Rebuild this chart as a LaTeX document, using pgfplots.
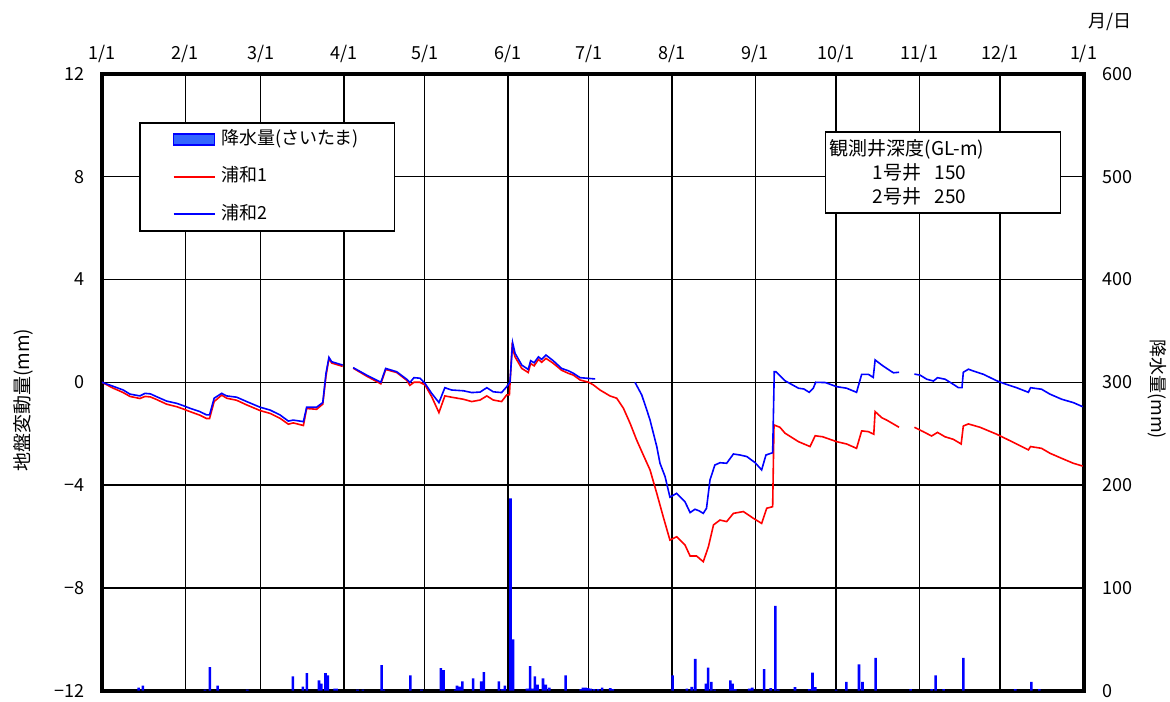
\documentclass[border=0pt]{standalone}
\usepackage{pgfplots}
\usepackage{pgfplotstable}
\pgfplotsset{compat=1.18}
\usepackage{fontspec}
\setmainfont{Noto Sans CJK JP}

\definecolor{barblue}{RGB}{0,0,255}
\definecolor{legblue}{RGB}{51,102,255}

% 浦和2 (blue)
\pgfplotstableread{
d v
0 0
4 -0.15
7.9 -0.30
10.4 -0.46
14.1 -0.53
16 -0.43
18 -0.45
20.3 -0.56
24 -0.73
27.8 -0.82
30 -0.90
32.7 -1.01
36.4 -1.14
38.9 -1.27
40 -1.27
41.7 -0.62
44.5 -0.43
46.4 -0.53
50.1 -0.58
53.8 -0.75
58.8 -0.97
62.5 -1.08
66.2 -1.27
69.3 -1.51
71.1 -1.47
74.9 -1.53
76.1 -0.97
79.8 -0.97
82.1 -0.79
83.3 0.35
84.4 0.97
85.4 0.80
89.5 0.67
91 nan
93.4 0.57
98.4 0.28
103.7 0.0
105.5 0.54
109.6 0.41
113.3 0.12
114.5 -0.01
116 0.18
118.2 0.16
120.1 -0.04
122.6 -0.43
125.3 -0.79
127.5 -0.21
130 -0.30
134.4 -0.33
137.5 -0.40
140.6 -0.38
143.1 -0.21
145.5 -0.37
148.6 -0.40
150.5 -0.17
151.7 0.0
152.7 1.54
153.6 1.13
156.1 0.67
158.5 0.50
159.4 0.84
160.7 0.76
162.3 0.99
163.5 0.89
165.1 1.06
167.8 0.84
170.9 0.54
173.4 0.45
175.3 0.35
177.8 0.18
183.4 0.13
190 nan
198.2 0
200.7 -0.49
202.6 -1.08
203.8 -1.47
206.3 -2.50
207.5 -3.15
209.4 -3.67
211.2 -4.47
213.7 -4.32
216.8 -4.65
218.7 -5.07
220.5 -4.94
222 -5.00
223.6 -5.10
224.8 -4.90
226.1 -3.80
227.9 -3.22
229.8 -3.13
232.3 -3.15
234.8 -2.79
237.3 -2.83
239.8 -2.89
242.9 -3.13
245.3 -3.41
246.9 -2.83
249.4 -2.74
250 0.41
250.6 0.41
254 0.06
259 -0.23
261 -0.26
263 -0.39
264.5 -0.23
265.4 0
269 -0.01
273.2 -0.17
276.9 -0.23
280.6 -0.39
282.5 0.31
285 0.31
286.8 0.19
287.5 0.87
290 0.67
291.8 0.54
294.3 0.37
296.4 0.39
299 nan
302.1 0.32
304.2 0.28
306.7 0.12
309.2 0.05
310.7 0.18
313.5 0.12
316 -0.04
318.5 -0.21
319.8 -0.21
320.3 0.39
322.2 0.51
324 0.44
327.8 0.31
332.7 0.06
335.2 -0.04
340.1 -0.21
344.5 -0.39
345.3 -0.21
349.4 -0.27
352.5 -0.46
356.9 -0.66
361.2 -0.79
364.7 -0.95
}\blueT

% 浦和1 (red)
\pgfplotstableread{
d v
0 0
4 -0.22
7.9 -0.40
10.4 -0.55
14.1 -0.63
16 -0.55
18 -0.57
20.3 -0.67
24 -0.85
27.8 -0.95
30 -1.03
32.7 -1.14
36.4 -1.28
38.9 -1.41
40 -1.41
41.7 -0.75
44.5 -0.50
46.4 -0.62
50.1 -0.70
53.8 -0.88
58.8 -1.10
62.5 -1.21
66.2 -1.40
69.3 -1.63
71.1 -1.58
74.9 -1.68
76.1 -1.02
79.8 -1.05
82.1 -0.85
83.3 0.25
84.4 0.93
85.4 0.75
89.5 0.62
91 nan
93.4 0.55
98.4 0.24
103.7 -0.06
105.5 0.50
109.6 0.38
113.3 0.08
114.5 -0.12
116 0.00
118.2 0.00
120.1 -0.10
122.6 -0.56
125.3 -1.18
127.5 -0.53
130 -0.58
134.4 -0.66
137.5 -0.75
140.6 -0.69
143.1 -0.53
145.5 -0.69
148.6 -0.75
150.5 -0.49
151.5 -0.49
152.5 1.39
153.6 0.99
156.1 0.54
158.5 0.38
159.4 0.73
160.7 0.64
162.3 0.89
163.5 0.78
165.1 0.93
167.8 0.74
170.9 0.47
173.4 0.35
175.3 0.28
177.8 0.09
181 0.00
182.7 -0.10
185.2 -0.30
188.9 -0.53
191.4 -0.62
193.9 -1.01
196.4 -1.60
198.8 -2.24
201.3 -2.83
203.8 -3.41
206.3 -4.32
208.7 -5.23
211.2 -6.14
213.7 -6.01
216.8 -6.33
218.7 -6.76
221.1 -6.76
223.6 -6.98
225.5 -6.40
227.4 -5.55
229.8 -5.36
232.3 -5.42
234.8 -5.10
238.5 -5.03
242.2 -5.29
245.3 -5.49
247.2 -4.90
249.4 -4.84
249.9 -1.66
252.1 -1.75
254 -1.98
259 -2.31
263.3 -2.50
265.2 -2.08
268 -2.12
273.2 -2.31
276.9 -2.40
280.6 -2.57
282.5 -1.89
285 -1.92
287 -2.02
287.5 -1.14
290 -1.38
291.8 -1.47
296.4 -1.75
299 nan
302.1 -1.75
305.4 -1.92
308.5 -2.09
310.7 -1.95
313.5 -2.12
316.6 -2.22
319.5 -2.40
320.3 -1.70
322.2 -1.62
326.5 -1.75
332.7 -2.02
337.6 -2.27
344.5 -2.63
345.3 -2.50
349.4 -2.57
352.5 -2.76
356.9 -2.96
361.2 -3.15
364.7 -3.26
}\redT

% 降水量 (さいたま), mm
\pgfplotstableread{
d p
13.6 3
15.2 5
38.3 1
40.1 23
43 5
54 1
71 14
74.7 4
76.2 17
80.7 10
81.6 7
83.1 17
84 15
86.5 2
87.2 2
95 1
97 1
104 25
104.8 1
114.7 15
118.8 1
126 22
127 20
131.3 1
132 5
133 4
134 9
138 12
141 9
142 18
147.6 9
148.8 1.5
149.8 5
151.9 187
152.9 50
158 2
158.6 2
159.2 24
160 2
161 14
162 6
164 12
165 6
166.3 3
172.4 15
178 1.5
178.8 3
179.8 3
180.8 2.5
181.8 2
183 1.5
184.5 1.5
186 3
189 2.5
190 1.5
212.2 15
217.5 2
219.3 3.7
220.6 31
224.6 7
225.4 22.5
226.6 8.5
227.8 1
233.7 10
234.5 7
235.5 1.5
240.7 2
241.8 3
246.2 21
248.7 2.5
250.4 82.5
251.5 1
257.7 3.5
263 1.5
264.2 17.6
265.3 3.5
273 1
276.8 8.5
281.5 25.5
282.8 8.5
287.7 32
300.7 1.5
308.5 1.5
310 15
313 1.5
320.3 32
339.6 1.5
345.6 8.5
348.6 1.5
}\rainT

\begin{document}
\begin{tikzpicture}
\path[use as bounding box] (-51pt,-5.15pt) rectangle (534pt,345.35pt);

% precipitation axis (right), with frame and grid
\begin{axis}[
  at={(0pt,0pt)}, anchor=south west,
  scale only axis, width=490.75pt, height=308.4pt,
  xmin=0, xmax=365, ymin=0, ymax=600,
  xtick={0,31,59,90,120,151,181,212,243,273,304,334,365},
  xticklabels={1/1,2/1,3/1,4/1,5/1,6/1,7/1,8/1,9/1,10/1,11/1,12/1,1/1},
  xticklabel pos=right,
  xticklabel style={font=\fontsize{9}{10}\selectfont, yshift=2pt},
  ytick={0,100,...,600},
  yticklabel pos=right,
  yticklabel style={font=\fontsize{9}{10}\selectfont, xshift=6pt},
  /pgf/number format/assume math mode=true,
  major tick length=0pt,
  xmajorgrids, ymajorgrids,
  grid style={black, line width=0.7pt},
  axis line style={black, line width=2pt},
]
\addplot[ybar, bar width=1.3pt, fill=barblue, draw=none] table[x=d, y=p] {\rainT};
\end{axis}

% ground deformation axis (left)
\begin{axis}[
  at={(0pt,0pt)}, anchor=south west,
  scale only axis, width=490.75pt, height=308.4pt,
  xmin=0, xmax=365, ymin=-12, ymax=12,
  xtick=\empty,
  ytick={-12,-8,-4,0,4,8,12},
  yticklabels={−12,−8,−4,0,4,8,12},
  yticklabel pos=left,
  yticklabel style={font=\fontsize{9}{10}\selectfont, xshift=-5pt},
  major tick length=0pt,
  axis line style={draw=none},
  clip mode=individual,
  unbounded coords=jump,
  legend cell align=left,
  legend style={
    at={(axis description cs:0.0377,0.922)}, anchor=north west,
    draw=black, line width=0.75pt, fill=white,
    inner xsep=16.5pt, inner ysep=4.25pt,
    row sep=10.75pt,
    font=\fontsize{9}{10}\selectfont,
    nodes={inner sep=0pt, text height=6.5pt, text depth=1.5pt},
    /tikz/every odd column/.append style={column sep=3pt},
  },
  legend image code/.code={\draw[#1] (0pt,0pt) -- (20.5pt,0pt);},
]
\addlegendimage{legend image code/.code={\draw[fill=legblue, draw=barblue, line width=0.8pt] (0pt,-2.75pt) rectangle (20.5pt,2.75pt);}}
\addlegendentry{\makebox[70pt][l]{降水量(さいたま)}}
\addplot[red, line width=0.8pt] table[x=d, y=v] {\redT};
\addlegendentry{浦和1}
\addplot[barblue, line width=0.8pt] table[x=d, y=v] {\blueT};
\addlegendentry{浦和2}

\node[draw=black, line width=0.75pt, fill=white, anchor=north west,
      text width=113.5pt, minimum height=40.5pt, inner xsep=2pt, inner ysep=3pt,
      align=left, font=\fontsize{9.5}{12}\selectfont]
  at (axis description cs:0.7366,0.9074)
  {観測井深度(GL-m)\\
   \hspace*{21.5pt}1号井\hspace{0.7em}150\\
   \hspace*{21.5pt}2号井\hspace{0.7em}250};

\node[font=\fontsize{9.5}{10}\selectfont, rotate=90] at (axis description cs:-0.0805,0.471) {地盤変動量(mm)};
\node[font=\fontsize{9}{10}\selectfont, rotate=-90] at (axis description cs:1.0749,0.489) {降水量(mm)};
\node[font=\fontsize{9}{10}\selectfont] at (axis description cs:1.027,1.084) {月/日};
\end{axis}
\end{tikzpicture}
\end{document}
